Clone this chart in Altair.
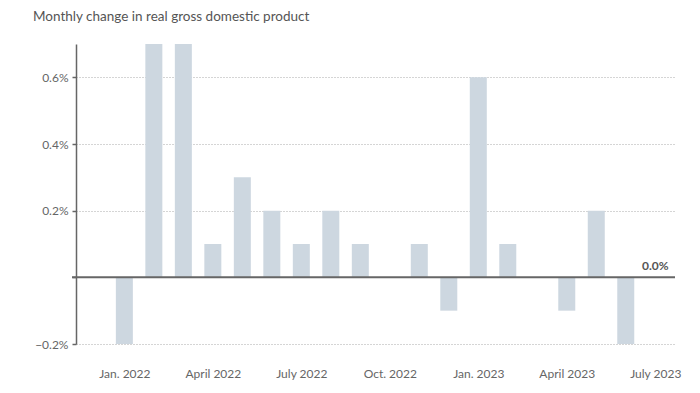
import altair as alt
import pandas as pd

months = ["2022-01", "2022-02", "2022-03", "2022-04", "2022-05", "2022-06",
          "2022-07", "2022-08", "2022-09", "2022-10", "2022-11", "2022-12",
          "2023-01", "2023-02", "2023-03", "2023-04", "2023-05", "2023-06",
          "2023-07"]
changes = [-0.2, 0.7, 0.7, 0.1, 0.3, 0.2, 0.1, 0.2, 0.1, 0.0, 0.1, -0.1,
           0.6, 0.1, 0.0, -0.1, 0.2, -0.2, 0.0]
tick_positions = [0, 3, 6, 9, 12, 15, 18]
tick_labels = ["Jan. 2022", "April 2022", "July 2022", "Oct. 2022",
               "Jan. 2023", "April 2023", "July 2023"]
y_ticks = [-0.2, 0.2, 0.4, 0.6]
y_tick_labels = ["−0.2%", "0.2%", "0.4%", "0.6%"]
last_label = "0.0%"

df = pd.DataFrame({"month": months, "idx": list(range(len(months))), "change": changes})
label_df = pd.DataFrame({"idx": [len(months) - 1], "change": [changes[-1]], "text": [last_label]})
zero_df = pd.DataFrame({"y": [0.0]})

font = "Lato"
x_label_expr = "{" + ",".join(f"'{p}':'{l}'" for p, l in zip(tick_positions, tick_labels)) + "}[datum.value]"
y_label_expr = "{" + ",".join(f"'{p}':'{l}'" for p, l in zip(y_ticks, y_tick_labels)) + "}[datum.value] || ''"

x_scale = alt.Scale(domain=[-1.47, 18.5], nice=False, zero=False)
y_scale = alt.Scale(domain=[-0.2, 0.7], nice=False)

bars = alt.Chart(df).mark_bar(color="#cdd7e0", size=17, clip=True).encode(
    x=alt.X("idx:Q", scale=x_scale,
            axis=alt.Axis(values=tick_positions, labelExpr=x_label_expr, title=None,
                          domain=False, ticks=False, grid=False, labelPadding=24,
                          labelFont=font, labelFontSize=12, labelColor="#666666")),
    y=alt.Y("change:Q", scale=y_scale,
            axis=alt.Axis(values=[-0.2, 0, 0.2, 0.4, 0.6], labelExpr=y_label_expr, title=None,
                          domain=True, domainColor="#666666", domainWidth=1.5,
                          ticks=True, tickSize=4, tickColor="#666666", tickWidth=1.5,
                          grid=True, gridColor="#aaaaaa", gridDash=[1, 2], gridWidth=1,
                          labelPadding=4, labelFont=font, labelFontSize=12,
                          labelColor="#666666")),
)

zero = alt.Chart(zero_df).mark_rule(color="#666666", strokeWidth=2).encode(
    y=alt.Y("y:Q", scale=y_scale),
    x=alt.value(-4), x2=alt.value(599),
)

label = alt.Chart(label_df).mark_text(font=font, fontSize=12, fontWeight="bold",
                                      color="#555555", align="center",
                                      baseline="bottom", dy=-4).encode(
    x=alt.X("idx:Q", scale=x_scale),
    y=alt.Y("change:Q", scale=y_scale),
    text="text:N",
)

chart = alt.layer(bars, zero, label).properties(
    width=599, height=300,
    autosize=alt.AutoSizeParams(type="none"),
    padding={"left": 68, "top": 36, "right": 17, "bottom": 40},
    title=alt.TitleParams("Monthly change in real gross domestic product",
                          anchor="start", frame="group", dx=-43, offset=21,
                          font=font, fontSize=13.5, fontWeight="normal",
                          color="#555555"),
).configure_view(stroke=None)

chart.save("out.html", embed_options={"renderer": "svg", "actions": False})
